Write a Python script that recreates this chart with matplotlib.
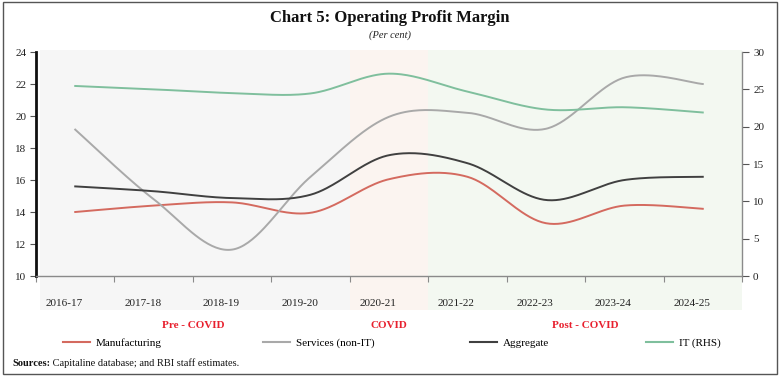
import numpy as np
import matplotlib
matplotlib.use("Agg")
import matplotlib.pyplot as plt
from matplotlib.patches import Rectangle
from matplotlib.lines import Line2D
import matplotlib.transforms as mtransforms

# ---- data ----
years = ["2016-17", "2017-18", "2018-19", "2019-20", "2020-21",
         "2021-22", "2022-23", "2023-24", "2024-25"]
manufacturing = [14.0, 14.4, 14.6, 13.95, 16.05, 16.2, 13.3, 14.4, 14.2]
services_non_it = [19.15, 14.8, 11.65, 16.2, 19.95, 20.2, 19.2, 22.4, 22.0]
aggregate = [15.6, 15.3, 14.87, 15.08, 17.55, 17.05, 14.75, 16.0, 16.2]
it_rhs = [25.45, 25.0, 24.5, 24.45, 27.1, 24.7, 22.3, 22.6, 21.9]
period_labels = ["Pre - COVID", "COVID", "Post - COVID"]
period_spans = [(0, 3), (4, 4), (5, 8)]  # category index ranges

SERIF = ["Liberation Serif", "DejaVu Serif"]
plt.rcParams['font.family'] = SERIF


def smooth(y, n=40):
    """Excel-like smoothed line (Catmull-Rom cubic Bezier)."""
    x = np.arange(len(y), dtype=float)
    y = np.asarray(y, dtype=float)
    pts = np.column_stack([x, y])
    out = []
    N = len(pts)
    for i in range(N - 1):
        p0 = pts[i]
        p3 = pts[i + 1]
        pm = pts[i - 1] if i > 0 else pts[i]
        pp = pts[i + 2] if i + 2 < N else pts[i + 1]
        p1 = p0 + (p3 - pm) / 6.0
        p2 = p3 - (pp - p0) / 6.0
        t = np.linspace(0, 1, n)[:, None]
        b = ((1 - t) ** 3) * p0 + 3 * ((1 - t) ** 2) * t * p1 + 3 * (1 - t) * t ** 2 * p2 + t ** 3 * p3
        out.append(b if i == 0 else b[1:])
    out = np.vstack(out)
    return out[:, 0], out[:, 1]


W, H = 780, 380
fig = plt.figure(figsize=(W / 100, H / 100), dpi=100)
fig.patch.set_facecolor("white")

L, R, T, B = 36, 742, 52, 276
ax = fig.add_axes([L / W, 1 - B / H, (R - L) / W, (B - T) / H])
ax.set_facecolor("none")
ax2 = ax.twinx()
ax2.set_facecolor("none")

n = len(years)
ax.set_xlim(-0.5, n - 0.5)
ax.set_ylim(10, 24)
ax2.set_ylim(0, 30)
ax.set_yticks(np.arange(10, 25, 2))
ax2.set_yticks(np.arange(0, 31, 5))

# shaded period backgrounds (extend below the axis over the tick labels)
trans = mtransforms.blended_transform_factory(ax.transData, ax.transAxes)
ybot = (B - 310) / (B - T)
ytop = (B - 50) / (B - T)
shade_cols = ["#f6f6f6", "#fbf4f0", "#f3f8f1"]
for (a, b_), c in zip(period_spans, shade_cols):
    x0 = a - 0.5
    if a == 0:
        x0 = -0.45
    rect = Rectangle((x0, ybot), (b_ + 0.5) - x0, ytop - ybot, transform=trans,
                     facecolor=c, edgecolor="none", zorder=0, clip_on=False)
    ax.add_patch(rect)

# lines
col_m, col_s, col_a, col_it = "#d46a5f", "#a9a9a9", "#404040", "#7fbf9d"
lw = 1.4
xs, ys = smooth(manufacturing)
ax.plot(xs, ys, color=col_m, lw=lw, zorder=3)
xs, ys = smooth(services_non_it)
ax.plot(xs, ys, color=col_s, lw=lw, zorder=3)
xs, ys = smooth(aggregate)
ax.plot(xs, ys, color=col_a, lw=lw, zorder=3)
xs, ys = smooth(it_rhs)
ax2.plot(xs, ys, color=col_it, lw=lw, zorder=3)

# spines
for a_ in (ax, ax2):
    a_.spines["top"].set_visible(False)
ax.spines["right"].set_visible(False)
ax2.spines["left"].set_visible(False)
ax2.spines["bottom"].set_visible(False)
ax.spines["left"].set_color("#111111")
ax.spines["left"].set_linewidth(2.0)
ax.spines["bottom"].set_color("#8a8a8a")
ax.spines["bottom"].set_linewidth(1.0)
ax2.spines["right"].set_color("#8a8a8a")
ax2.spines["right"].set_linewidth(1.0)

# x ticks at category boundaries, labels at centres (shifted slightly left)
ax.set_xticks(np.arange(-0.5, n, 1.0))
ax.set_xticklabels([])
ax.tick_params(axis="x", which="major", direction="out", length=4, color="#8a8a8a")
ax.set_xticks(np.arange(n), minor=True)
ax.set_xticklabels(years, minor=True)
ax.tick_params(axis="x", which="minor", length=0, pad=16.5, labelsize=8, labelcolor="#222222")
off = mtransforms.ScaledTranslation(-11 / 100, 0, fig.dpi_scale_trans)
for lab in ax.xaxis.get_minorticklabels():
    lab.set_transform(lab.get_transform() + off)

ax.tick_params(axis="y", direction="out", length=4, color="#555555", labelsize=8,
               labelcolor="#222222", pad=3)
ax2.tick_params(axis="y", direction="out", length=5, color="#555555", labelsize=8,
                labelcolor="#222222", pad=3)

# period labels
for (a, b_), lab in zip(period_spans, period_labels):
    xc = (a + b_) / 2.0
    if lab == "Pre - COVID":
        xc = 1.5
    ax.text(xc, (B - 325) / (B - T), lab, transform=trans, ha="center", va="center",
            color="#e8202e", fontsize=8, fontweight="bold")

# title
fig.text(0.5, 1 - 18 / H, "Chart 5: Operating Profit Margin", ha="center", va="center",
         fontsize=12, fontweight="bold", color="#111111")
fig.text(0.5, 1 - 35 / H, "(Per cent)", ha="center", va="center",
         fontsize=7.5, style="italic", color="#222222")

# legend entries
entries = [("Manufacturing", col_m, 65), ("Services (non-IT)", col_s, 265),
           ("Aggregate", col_a, 472), ("IT (RHS)", col_it, 648)]
for lab, c, xpx in entries:
    h = Line2D([], [], color=c, lw=1.5)
    lg = fig.legend([h], [lab], loc="center left",
                    bbox_to_anchor=(xpx / W - 0.012, 1 - 343 / H),
                    frameon=False, fontsize=8, handlelength=2.4, handletextpad=0.5,
                    borderpad=0.2)

# sources
t1 = fig.text(12 / W, 1 - 363 / H, "Sources:", ha="left", va="center",
              fontsize=7.5, fontweight="bold", color="#111111")
fig.canvas.draw()
ax.annotate(" Capitaline database; and RBI staff estimates.", xy=(1, 0.5),
            xycoords=t1, va="center", ha="left", fontsize=7.5, color="#111111",
            annotation_clip=False)

# outer border
fig.add_artist(Rectangle((3 / W, 6 / H), 774 / W, 372 / H, transform=fig.transFigure,
                         facecolor="none", edgecolor="#555555", lw=1.0))

fig.savefig("out.png", dpi=100)
